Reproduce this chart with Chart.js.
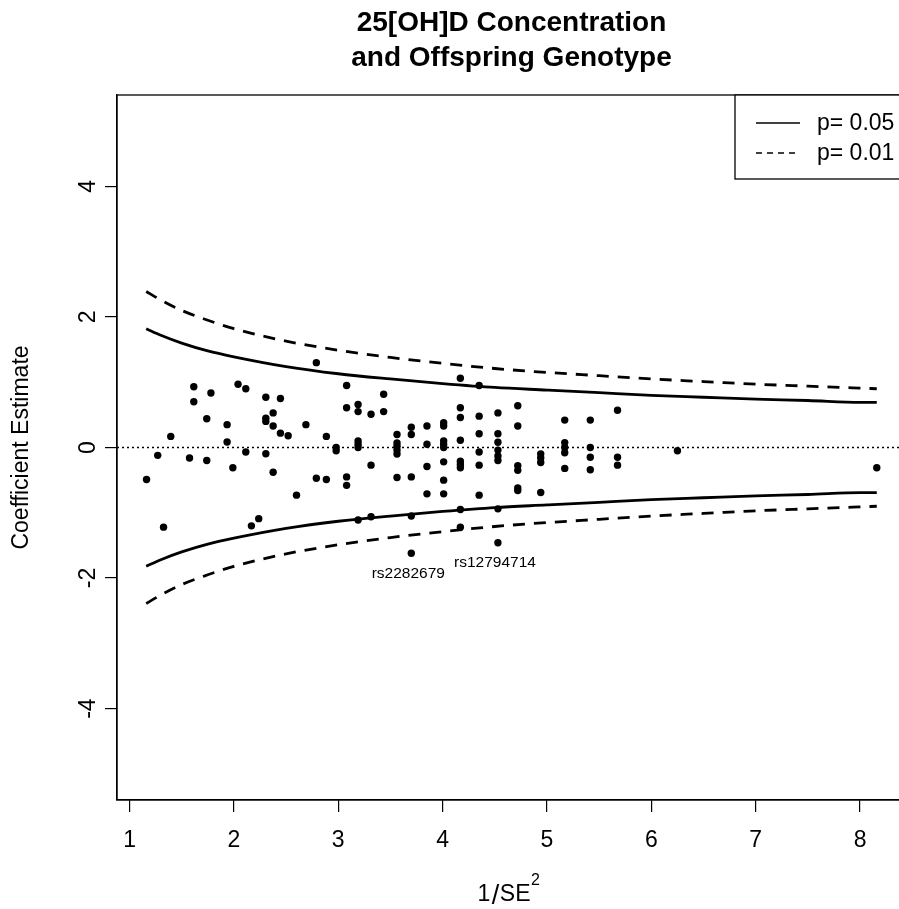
<!DOCTYPE html>
<html><head><meta charset="utf-8">
<script src="https://cdn.jsdelivr.net/npm/chart.js@4.4.1/dist/chart.umd.min.js"></script>
<style>
html,body{margin:0;padding:0;overflow:hidden;background:#fff;width:899px;height:909px}
#wrap{position:absolute;left:0;top:0;width:920px;height:909px}
</style>
</head><body>
<div id="wrap"><canvas id="c" width="920" height="909"></canvas></div>
<script>
// ---------- data ----------
const titleLines = ['25[OH]D Concentration', 'and Offspring Genotype'];
const xAxisTitleParts = ['1', '/', 'SE', '2'];
const yAxisTitle = 'Coefficient Estimate';
const xTickValues = [1, 2, 3, 4, 5, 6, 7, 8];
const yTickValues = [-4, -2, 0, 2, 4];
const yTickLabels = ['-4', '-2', '0', '2', '4'];

const pointX = [
  1.163, 1.27, 1.326, 1.395, 1.575, 1.616, 1.616, 1.74, 1.74, 1.78,
  1.935, 1.935, 1.99, 2.04, 2.114, 2.114, 2.168, 2.238,
  2.306, 2.306, 2.306, 2.306, 2.376, 2.376, 2.376, 2.446, 2.446, 2.52,
  2.60, 2.69, 2.79, 2.79, 2.886, 2.886, 2.98, 2.98,
  3.08, 3.08, 3.08, 3.08,
  3.19, 3.19, 3.19, 3.19, 3.19, 3.19,
  3.314, 3.314, 3.314,
  3.435, 3.435,
  3.563, 3.563, 3.563, 3.563, 3.563, 3.563,
  3.70, 3.70, 3.70, 3.70, 3.70,
  3.85, 3.85, 3.85, 3.85,
  4.01, 4.01, 4.01, 4.01, 4.01, 4.01, 4.01, 4.01,
  4.17, 4.17, 4.17, 4.17, 4.17, 4.17, 4.17, 4.17, 4.17,
  4.35, 4.35, 4.35, 4.35, 4.35, 4.35,
  4.53, 4.53, 4.53, 4.53, 4.53, 4.53, 4.53, 4.53,
  4.72, 4.72, 4.72, 4.72, 4.72, 4.72,
  4.94, 4.94, 4.94, 4.94,
  5.17, 5.17, 5.17, 5.17, 5.17,
  5.415, 5.415, 5.415, 5.415,
  5.676, 5.676, 5.676,
  6.25, 8.16
];
const pointY = [
  -0.49, -0.12, -1.22, 0.17, -0.16, 0.93, 0.70, 0.44, -0.20, 0.835,
  0.35, 0.085, -0.31, 0.97, 0.90, -0.07, -1.20, -1.09,
  0.77, 0.45, 0.40, -0.095, 0.53, 0.33, -0.38, 0.75, 0.22, 0.18,
  -0.73, 0.35, 1.30, -0.47, 0.17, -0.49, 0.0, -0.05,
  0.95, 0.61, -0.45, -0.58,
  0.66, 0.55, 0.10, 0.05, 0.0, -1.11,
  0.51, -0.27, -1.06,
  0.815, 0.55,
  0.20, 0.07, 0.02, -0.04, -0.10, -0.46,
  0.31, 0.20, -0.45, -1.05, -1.62,
  0.33, 0.05, -0.29, -0.71,
  0.38, 0.33, 0.10, 0.05, 0.0, -0.22, -0.50, -0.71,
  1.06, 0.61, 0.46, 0.11, -0.21, -0.26, -0.31, -0.95, -1.22,
  0.95, 0.48, 0.21, -0.07, -0.27, -0.73,
  0.53, 0.21, 0.08, -0.04, -0.13, -0.20, -0.94, -1.46,
  0.64, 0.33, -0.28, -0.35, -0.62, -0.66,
  -0.10, -0.16, -0.23, -0.69,
  0.42, 0.075, 0.0, -0.08, -0.32,
  0.42, 0.0, -0.15, -0.34,
  0.57, -0.15, -0.27,
  -0.05, -0.31
];

// funnel limits
const curveX  = [1.16, 1.3, 1.5, 1.75, 2, 2.5, 3, 3.5, 4, 4.5, 5, 5.5, 6, 6.5, 7, 7.5, 8, 8.16];
const upper05 = [1.82, 1.72, 1.60, 1.48, 1.39, 1.24, 1.13, 1.05, 0.98, 0.92, 0.88, 0.84, 0.80, 0.77, 0.74, 0.72, 0.69, 0.69];
const lower05 = [-1.82, -1.72, -1.60, -1.48, -1.39, -1.24, -1.13, -1.05, -0.98, -0.92, -0.88, -0.84, -0.80, -0.77, -0.74, -0.72, -0.69, -0.69];
const upper01 = [2.39, 2.26, 2.10, 1.95, 1.82, 1.63, 1.49, 1.38, 1.29, 1.21, 1.15, 1.10, 1.05, 1.01, 0.97, 0.94, 0.91, 0.90];
const lower01 = [-2.39, -2.26, -2.10, -1.95, -1.82, -1.63, -1.49, -1.38, -1.29, -1.21, -1.15, -1.10, -1.05, -1.01, -0.97, -0.94, -0.91, -0.90];

const labelNames = ['rs2282679', 'rs12794714'];
const labelX = [3.70, 4.53];
const labelY = [-1.62, -1.46];
const legendLabels = ['p= 0.05', 'p= 0.01'];
const refLineY = 0;

// ---------- chart ----------
const FONT = "'Liberation Sans', Arial, Helvetica, sans-serif";
const xy = (xs, ys) => xs.map((x, i) => ({x: x, y: ys[i]}));
const curveStyle = (dash) => ({
  type: 'line', borderColor: '#000', borderWidth: 2.8, borderDash: dash,
  pointRadius: 0, tension: 0.4, cubicInterpolationMode: 'monotone', fill: false
});

const decor = {
  id: 'decor',
  beforeDatasetsDraw(chart) {
    const {ctx, chartArea: a, scales: {y}} = chart;
    const py = y.getPixelForValue(refLineY);
    ctx.save();
    ctx.strokeStyle = '#000'; ctx.lineWidth = 1.3; ctx.setLineDash([2, 3]);
    ctx.beginPath(); ctx.moveTo(a.left, py); ctx.lineTo(a.right, py); ctx.stroke();
    ctx.restore();
  },
  afterDraw(chart) {
    const {ctx, chartArea: a, scales: {x, y}} = chart;
    ctx.save();
    // frame
    ctx.strokeStyle = '#000'; ctx.lineWidth = 1.3; ctx.setLineDash([]);
    ctx.strokeRect(a.left, a.top, a.right - a.left, a.bottom - a.top);
    // title
    ctx.fillStyle = '#000';
    ctx.textAlign = 'center'; ctx.textBaseline = 'middle';
    ctx.font = 'bold 28px ' + FONT;
    const cx = (a.left + a.right) / 2;
    ctx.fillText(titleLines[0], cx, 23);
    ctx.fillText(titleLines[1], cx, 58);
    // x axis title: 1/SE^2 (plotmath style)
    ctx.textAlign = 'left'; ctx.textBaseline = 'alphabetic';
    let tx = cx - 34;
    ctx.font = '23px ' + FONT;
    ctx.fillText(xAxisTitleParts[0], tx, 901);
    tx += ctx.measureText(xAxisTitleParts[0]).width + 1.5;
    ctx.save();
    ctx.font = '27px ' + FONT;
    ctx.fillText(xAxisTitleParts[1], tx, 904);
    tx += ctx.measureText(xAxisTitleParts[1]).width + 0.5;
    ctx.restore();
    ctx.font = '23px ' + FONT;
    ctx.fillText(xAxisTitleParts[2], tx, 901);
    tx += ctx.measureText(xAxisTitleParts[2]).width + 0.5;
    ctx.font = '16px ' + FONT;
    ctx.fillText(xAxisTitleParts[3], tx, 885);
    // y tick labels (rotated like R)
    ctx.textAlign = 'center'; ctx.textBaseline = 'middle';
    ctx.font = '23px ' + FONT;
    yTickValues.forEach((v, i) => {
      ctx.save();
      ctx.translate(89, y.getPixelForValue(v));
      ctx.rotate(-Math.PI / 2);
      ctx.fillText(yTickLabels[i], 0, 0);
      ctx.restore();
    });
    // point labels
    ctx.font = '15.5px ' + FONT;
    labelNames.forEach((n, i) => {
      ctx.fillText(n, x.getPixelForValue(labelX[i]) - 3, y.getPixelForValue(labelY[i]) + 20);
    });
    // legend
    const L = 735, T = a.top, B = 179;
    ctx.fillStyle = '#fff';
    ctx.fillRect(L, T, 920 - L, B - T);
    ctx.strokeStyle = '#000'; ctx.lineWidth = 1.3;
    ctx.strokeRect(L, T, 930 - L, B - T);
    ctx.lineWidth = 1.5;
    ctx.beginPath(); ctx.moveTo(756, 123); ctx.lineTo(800, 123); ctx.stroke();
    ctx.setLineDash([6, 5]);
    ctx.beginPath(); ctx.moveTo(756, 153); ctx.lineTo(800, 153); ctx.stroke();
    ctx.setLineDash([]);
    ctx.fillStyle = '#000'; ctx.textAlign = 'left';
    ctx.font = '23px ' + FONT;
    ctx.fillText(legendLabels[0], 817, 124);
    ctx.fillText(legendLabels[1], 817, 154);
    ctx.restore();
  }
};

new Chart(document.getElementById('c'), {
  data: {
    datasets: [
      Object.assign({data: xy(curveX, upper05)}, curveStyle([])),
      Object.assign({data: xy(curveX, lower05)}, curveStyle([])),
      Object.assign({data: xy(curveX, upper01)}, curveStyle([12, 9])),
      Object.assign({data: xy(curveX, lower01)}, curveStyle([12, 9])),
      {type: 'scatter', data: xy(pointX, pointY), pointRadius: 3.7,
       pointBackgroundColor: '#000', pointBorderWidth: 0, pointBorderColor: '#000'}
    ]
  },
  options: {
    responsive: false, animation: false, devicePixelRatio: 1,
    layout: {padding: {top: 95, right: 14, left: 0, bottom: 0}},
    plugins: {legend: {display: false}, title: {display: false}, tooltip: {enabled: false}},
    scales: {
      x: {
        type: 'linear', min: 0.88, max: 8.44,
        afterBuildTicks: s => { s.ticks = xTickValues.map(v => ({value: v})); },
        afterFit: s => { s.height = 109; },
        grid: {drawOnChartArea: false, drawTicks: true, tickLength: 12, color: '#000', lineWidth: 1.2},
        border: {display: true, color: '#000', width: 1.3},
        ticks: {font: {family: FONT, size: 23}, color: '#000', padding: 15, maxRotation: 0, autoSkip: false},
        title: {display: false}
      },
      y: {
        type: 'linear', min: -5.4, max: 5.4,
        afterBuildTicks: s => { s.ticks = yTickValues.map(v => ({value: v})); },
        afterFit: s => { s.width = 117; },
        grid: {drawOnChartArea: false, drawTicks: true, tickLength: 12, color: '#000', lineWidth: 1.2},
        border: {display: true, color: '#000', width: 1.3},
        ticks: {display: false},
        title: {display: true, text: yAxisTitle, font: {family: FONT, size: 23}, color: '#000',
                padding: {top: 8, bottom: 0}}
      }
    }
  },
  plugins: [decor]
});
</script>
</body></html>
